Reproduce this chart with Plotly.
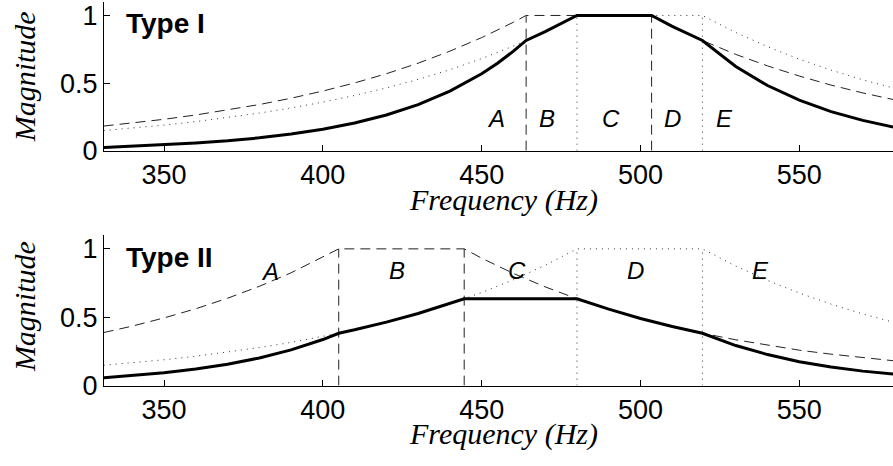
import plotly.graph_objects as go

# ---------------- data ----------------
# Type I panel: frequency grid (Hz) and the three magnitude responses
freq_top = [331, 340, 350, 360, 370, 380, 390, 400, 410, 420, 430, 440, 450, 455, 460,
            464, 470, 475, 480, 490, 500, 503.5, 510, 519.5, 530, 540, 550, 560, 570, 580]
top_dashed = [0.182, 0.205, 0.232, 0.264, 0.300, 0.341, 0.388, 0.441, 0.501, 0.569, 0.647,
              0.736, 0.836, 0.891, 0.950, 1, 1, 1, 1, 1, 1, 1, 0.920, 0.815, 0.712, 0.627,
              0.552, 0.485, 0.427, 0.376]
top_dotted = [0.149, 0.167, 0.189, 0.215, 0.245, 0.278, 0.316, 0.359, 0.408, 0.464, 0.527,
              0.599, 0.681, 0.726, 0.774, 0.815, 0.880, 0.938, 1, 1, 1, 1, 1, 1, 0.874,
              0.769, 0.677, 0.596, 0.524, 0.461]
top_solid = [0.024, 0.034, 0.044, 0.057, 0.073, 0.095, 0.123, 0.158, 0.205, 0.264, 0.341,
             0.441, 0.569, 0.647, 0.736, 0.815, 0.880, 0.938, 1, 1, 1, 1, 0.920, 0.815,
             0.623, 0.482, 0.373, 0.289, 0.224, 0.173]
top_dashed_edges = [464, 503.5]
top_dotted_edges = [480, 519.5]

# Type II panel
freq_bot = [331, 340, 350, 360, 370, 380, 390, 400, 405, 410, 420, 430, 440, 444.5, 450,
            460, 470, 480, 490, 500, 510, 519.5, 530, 540, 550, 560, 570, 580]
bot_dashed = [0.388, 0.435, 0.495, 0.562, 0.639, 0.726, 0.825, 0.938, 1, 1, 1, 1, 1, 1,
              0.932, 0.820, 0.722, 0.635, 0.559, 0.491, 0.432, 0.383, 0.335, 0.295, 0.259,
              0.230, 0.204, 0.181]
bot_dotted = [0.149, 0.167, 0.189, 0.215, 0.245, 0.278, 0.316, 0.359, 0.383, 0.408, 0.464,
              0.527, 0.599, 0.635, 0.681, 0.774, 0.880, 1, 1, 1, 1, 1, 0.874, 0.769, 0.677,
              0.596, 0.524, 0.461]
bot_solid = [0.058, 0.073, 0.094, 0.121, 0.156, 0.202, 0.261, 0.337, 0.383, 0.408, 0.464,
             0.527, 0.599, 0.635, 0.635, 0.635, 0.635, 0.635, 0.559, 0.491, 0.432, 0.383,
             0.293, 0.227, 0.175, 0.136, 0.106, 0.083]
bot_dashed_edges = [405, 444.5]
bot_dotted_edges = [480, 519.5]

# band letters and where they sit
band_letters = ["A", "B", "C", "D", "E"]
top_letter_freq = [454.6, 470.5, 490.7, 510.1, 526.3]
top_letter_mag = [0.24, 0.24, 0.24, 0.24, 0.24]
bot_letter_freq = [383.5, 423.2, 461.1, 498.5, 537.8]
bot_letter_mag = [0.835, 0.845, 0.845, 0.845, 0.845]

x_ticks = [350, 400, 450, 500, 550]
y_ticks = [0, 0.5, 1]
y_tick_text = ["0", "0.5", "1"]
panel_titles = ["Type I", "Type II"]

# ---------------- styles ----------------
SANS = "Liberation Sans, Arial, Helvetica, sans-serif"
SERIF = "Liberation Serif, Times New Roman, serif"
DASH = dict(color="#222", width=1, dash="10px,6px")
DOT = dict(color="#333", width=1, dash="1px,5px")
SOLID = dict(color="black", width=3)

fig = go.Figure()


def add_panel(xa, ya, freq, dashed, dotted, solid, dashed_edges, dotted_edges):
    fig.add_trace(go.Scatter(x=freq, y=dashed, mode="lines", line=DASH, xaxis=xa, yaxis=ya))
    fig.add_trace(go.Scatter(x=freq, y=dotted, mode="lines", line=DOT, xaxis=xa, yaxis=ya))
    for e in dashed_edges:
        fig.add_trace(go.Scatter(x=[e, e], y=[0, 1], mode="lines", line=DASH,
                                 xaxis=xa, yaxis=ya))
    for e in dotted_edges:
        fig.add_trace(go.Scatter(x=[e, e], y=[0, 1], mode="lines", line=DOT,
                                 xaxis=xa, yaxis=ya))
    fig.add_trace(go.Scatter(x=freq, y=solid, mode="lines", line=SOLID, xaxis=xa, yaxis=ya))


add_panel("x", "y", freq_top, top_dashed, top_dotted, top_solid,
          top_dashed_edges, top_dotted_edges)
add_panel("x2", "y2", freq_bot, bot_dashed, bot_dotted, bot_solid,
          bot_dashed_edges, bot_dotted_edges)

annotations = []
for letter, f, m in zip(band_letters, top_letter_freq, top_letter_mag):
    annotations.append(dict(x=f, y=m, xref="x", yref="y", text=f"<i>{letter}</i>",
                            xanchor="center", yanchor="middle", showarrow=False,
                            font=dict(family=SANS, size=24, color="black")))
for letter, f, m in zip(band_letters, bot_letter_freq, bot_letter_mag):
    annotations.append(dict(x=f, y=m, xref="x2", yref="y2", text=f"<i>{letter}</i>",
                            xanchor="center", yanchor="middle", showarrow=False,
                            font=dict(family=SANS, size=24, color="black")))

# panel titles
annotations.append(dict(x=337.4, y=0.94, xref="x", yref="y", xanchor="left",
                        yanchor="middle", text=f"<b>{panel_titles[0]}</b>", showarrow=False,
                        font=dict(family=SANS, size=28, color="black")))
annotations.append(dict(x=337.4, y=0.936, xref="x2", yref="y2", xanchor="left",
                        yanchor="middle", text=f"<b>{panel_titles[1]}</b>", showarrow=False,
                        font=dict(family=SANS, size=28, color="black")))

# axis titles, placed in pixel terms of the 893x466 canvas
W, H, L = 893, 466, 104
for yc in (79, 317):
    annotations.append(dict(x=(24 - L) / (W - L), y=1 - yc / H, xref="paper", yref="paper",
                            xanchor="center", yanchor="middle",
                            text="<i>Magnitude</i>", textangle=-90, showarrow=False,
                            font=dict(family=SERIF, size=30, color="black")))
for yc in (206, 448):
    annotations.append(dict(x=(503 - L) / (W - L), y=1 - yc / H, xref="paper", yref="paper",
                            xanchor="center", yanchor="middle",
                            text="<i>Frequency (Hz)</i>", showarrow=False,
                            font=dict(family=SERIF, size=30, color="black")))

xaxis_style = dict(range=[331.1, 579.5], showline=True, linecolor="black", linewidth=1,
                   ticks="inside", ticklen=6, tickcolor="black", tickvals=x_ticks,
                   tickfont=dict(family=SANS, size=27, color="black"),
                   showgrid=False, zeroline=False, domain=[0, 1])
yaxis_style = dict(range=[0, 1.1], showline=True, linecolor="black", linewidth=1,
                   ticks="inside", ticklen=6, tickcolor="black", tickvals=y_ticks,
                   ticktext=y_tick_text, tickfont=dict(family=SANS, size=27, color="black"),
                   showgrid=False, zeroline=False)

fig.update_layout(
    width=W, height=H, autosize=False,
    margin=dict(l=L, r=0, t=0, b=0, pad=0),
    paper_bgcolor="white", plot_bgcolor="white",
    showlegend=False,
    xaxis=dict(xaxis_style, anchor="y"),
    yaxis=dict(yaxis_style, anchor="x", domain=[0.6674, 0.9979]),
    xaxis2=dict(xaxis_style, anchor="y2"),
    yaxis2=dict(yaxis_style, anchor="x2", domain=[0.1453, 0.4796]),
    annotations=annotations,
)

fig.write_html("out.html")
